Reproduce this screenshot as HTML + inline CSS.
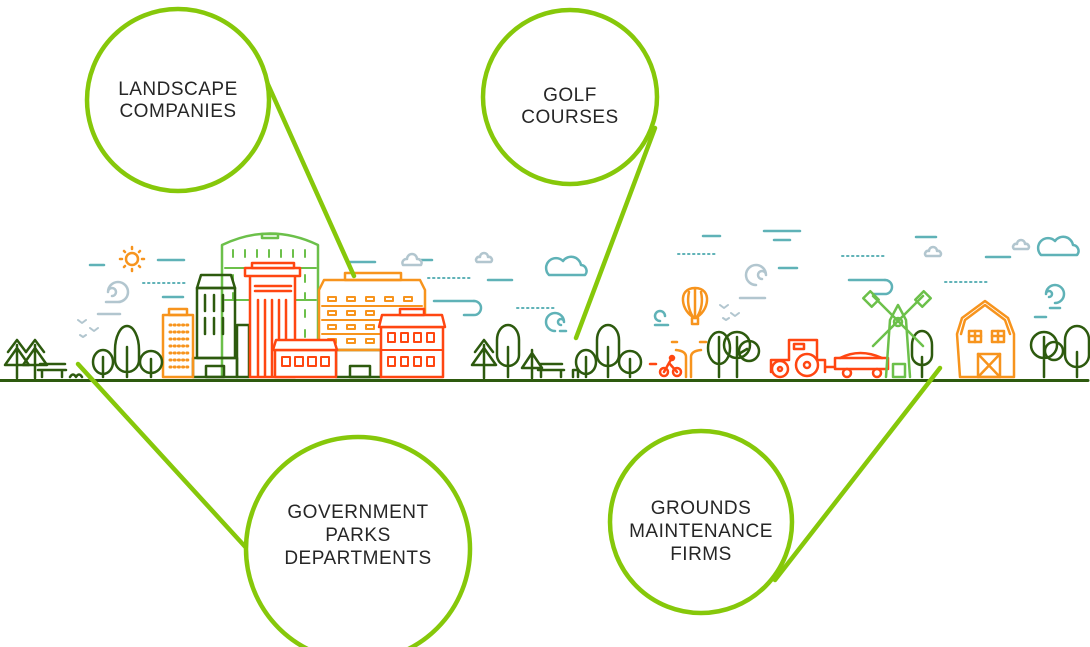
<!DOCTYPE html>
<html><head><meta charset="utf-8"><style>
html,body{margin:0;padding:0;background:#fff;}
svg{display:block}
text{font-family:"Liberation Sans",sans-serif;font-size:19px;fill:#262626;text-anchor:middle;letter-spacing:0.5px}
</style></head><body>
<svg width="1090" height="647" viewBox="0 0 1090 647" xmlns="http://www.w3.org/2000/svg">
<g fill="none" stroke-linecap="round" stroke-linejoin="round">
<!-- sky dashes -->
<g stroke="#5fb2b7" stroke-width="2.5">
<line x1="90" y1="265" x2="104" y2="265"/><line x1="158" y1="260" x2="184" y2="260"/>
<line x1="163" y1="297" x2="183" y2="297"/><line x1="348" y1="262" x2="375" y2="262"/>
<line x1="420" y1="260" x2="432" y2="260"/><line x1="488" y1="280" x2="512" y2="280"/>
<line x1="434" y1="301" x2="474" y2="301"/><path d="M474 301 a7 7 0 0 1 0 14 h-10"/>
<line x1="703" y1="236" x2="720" y2="236"/><line x1="764" y1="231" x2="800" y2="231"/><line x1="774" y1="240" x2="790" y2="240"/>
<line x1="779" y1="268" x2="797" y2="268"/><line x1="849" y1="280" x2="885" y2="280"/><path d="M885 280 a7 7 0 0 1 0 14 h-12"/>
<line x1="916" y1="237" x2="936" y2="237"/><line x1="986" y1="257" x2="1010" y2="257"/>
<line x1="1035" y1="317" x2="1046" y2="317"/>
</g>
<g stroke="#5fb2b7" stroke-width="2" stroke-dasharray="1.5 3.5">
<line x1="143" y1="283" x2="185" y2="283"/><line x1="428" y1="278" x2="470" y2="278"/>
<line x1="678" y1="254" x2="718" y2="254"/><line x1="842" y1="256" x2="884" y2="256"/>
<line x1="945" y1="282" x2="989" y2="282"/><line x1="517" y1="308" x2="556" y2="308"/>
</g>
<!-- grey swirls/clouds -->
<g stroke="#b2c6cf" stroke-width="2.5">
<path d="M118 302 a10 10 0 1 0 -10 -10 M108 292 a4 4 0 1 1 4 4 M106 302 h14"/><line x1="98" y1="314" x2="120" y2="314"/>
<path d="M403 265 h18 a4 4 0 0 0 -4 -6 a5 5 0 0 0 -10 0 a4 4 0 0 0 -4 6z"/>
<path d="M477 262 h14 a3 3 0 0 0 -3 -5 a4 4 0 0 0 -8 0 a3 3 0 0 0 -3 5z"/>
<path d="M756 285 a10 10 0 1 1 10 -10 M766 275 a4 4 0 1 0 -4 4"/><line x1="740" y1="298" x2="765" y2="298"/>
<path d="M926 256 h14 a3 3 0 0 0 -3 -5 a4 4 0 0 0 -8 0 a3 3 0 0 0 -3 5z"/>
<path d="M1014 249 h14 a3 3 0 0 0 -3 -5 a4 4 0 0 0 -8 0 a3 3 0 0 0 -3 5z"/>
</g>
<g stroke="#5fb2b7" stroke-width="2.5">
<path d="M549 275 h36 a6 6 0 0 0 -4 -10 a10 10 0 0 0 -18 -4 a8 8 0 0 0 -14 14z"/>
<path d="M1041 255 h36 a6 6 0 0 0 -4 -10 a10 10 0 0 0 -18 -4 a8 8 0 0 0 -14 14z"/>
<path d="M555 331 a9 9 0 1 1 9 -9 M564 322 a3 3 0 1 0 -3 3"/><line x1="560" y1="331" x2="566" y2="331"/>
<path d="M1055 303 a9 9 0 1 0 -9 -9 M1046 294 a3 3 0 1 1 3 3"/><line x1="1050" y1="308" x2="1060" y2="308"/>
<path d="M660 321 a5 5 0 1 1 5 -5"/><line x1="655" y1="325" x2="668" y2="325"/>
</g>
<!-- birds -->
<g stroke="#b2c6cf" stroke-width="2"><path d="M78 320 l4 3 4 -3 M90 328 l4 3 4 -3 M80 335 l3 2 3 -2 M720 305 l4 3 4 -3 M731 313 l4 3 4 -3 M723 318 l3 2 3 -2"/></g>
<!-- sun -->
<g stroke="#f7941d" stroke-width="2.5"><circle cx="132" cy="259" r="6"/><path d="M132 247v2M132 269v2M120 259h2M142 259h2M124 251l1 1M140 251l-1 1M124 267l1-1M140 267l-1-1"/></g>

<!-- buildings -->
<g stroke="#6cc04a" stroke-width="2.5">
<path d="M222 376 V245 Q270 222 318 245 V376"/><rect x="262" y="234" width="16" height="4"/>
<g stroke-width="2">
<path d="M233 250v7M245 250v7M257 250v7M269 250v7M281 250v7M293 250v7M305 250v7 M233 275v7M305 275v7M233 293v7M305 293v7M305 310v7M305 330v7"/>
<line x1="225" y1="268" x2="316" y2="268"/><line x1="225" y1="300" x2="316" y2="300"/></g>
</g>
<g stroke="#2d5a0e" stroke-width="2.5">
<path d="M197 288 L201 275 H231 L235 288Z"/><rect x="197" y="288" width="38" height="70"/>
<path d="M205 295v16M214 295v16M223 295v16M205 318v16M214 318v16M223 318v16"/>
<rect x="193" y="358" width="44" height="19"/><rect x="206" y="366" width="18" height="11"/>
<rect x="237" y="325" width="12" height="52"/>
<rect x="336" y="350" width="45" height="27"/><rect x="350" y="366" width="20" height="11"/>
</g>
<g stroke="#f7941d" stroke-width="2.5">
<rect x="163" y="315" width="30" height="62"/><rect x="169" y="309" width="18" height="6"/>
<g stroke-width="3" stroke-dasharray="1 3.2"><path d="M170 325h18M170 332h18M170 339h18M170 346h18M170 353h18M170 360h18M170 367h18"/></g>
<path d="M319 290 L324 280 H420 L425 290 V350 H319Z"/><rect x="345" y="273" width="56" height="7"/>
<g stroke-width="2"><path d="M322 306h100M322 320h100M322 334h100"/>
<rect x="328" y="297" width="8" height="4"/><rect x="347" y="297" width="8" height="4"/><rect x="366" y="297" width="8" height="4"/><rect x="385" y="297" width="8" height="4"/><rect x="404" y="297" width="8" height="4"/>
<rect x="328" y="311" width="8" height="4"/><rect x="347" y="311" width="8" height="4"/><rect x="366" y="311" width="8" height="4"/>
<rect x="328" y="325" width="8" height="4"/><rect x="347" y="325" width="8" height="4"/><rect x="366" y="325" width="8" height="4"/>
<rect x="328" y="339" width="8" height="4"/><rect x="347" y="339" width="8" height="4"/><rect x="366" y="339" width="8" height="4"/></g>
</g>
<g stroke="#ff4611" stroke-width="2.5" fill="#fff">
<rect x="250" y="275" width="45" height="102"/><rect x="245" y="268" width="55" height="8"/><rect x="252" y="263" width="42" height="5"/>
<path d="M255 286h36M255 291h36M258 300v76M265 300v76M272 300v76M279 300v76M286 300v76" fill="none"/>
<rect x="275" y="350" width="61" height="27"/><path d="M273 350 L276 340 H334 L337 350Z"/>
<g stroke-width="2"><rect x="282" y="357" width="8" height="9"/><rect x="295" y="357" width="8" height="9"/><rect x="308" y="357" width="8" height="9"/><rect x="321" y="357" width="8" height="9"/></g>
<rect x="381" y="327" width="62" height="50"/><path d="M379 327 L382 315 H442 L445 327Z"/><rect x="400" y="309" width="24" height="6"/>
<line x1="381" y1="350" x2="443" y2="350" stroke-width="2"/>
<g stroke-width="2"><rect x="388" y="333" width="7" height="9"/><rect x="401" y="333" width="7" height="9"/><rect x="414" y="333" width="7" height="9"/><rect x="427" y="333" width="7" height="9"/>
<rect x="388" y="357" width="7" height="9"/><rect x="401" y="357" width="7" height="9"/><rect x="414" y="357" width="7" height="9"/><rect x="427" y="357" width="7" height="9"/></g>
</g>

<!-- trees -->
<g stroke="#2d5a0e" stroke-width="2.5">
<path d="M17 378V345 M5 365 l12 -17 12 17z M8 352l9-12 9 12"/><path d="M35 378V345 M23 365 l12 -17 12 17z M26 352l9-12 9 12"/>
<path d="M40 364h25M38 370h28M42 370v7M62 370v7"/>
<path d="M70 377 q3 -5 6 0 q3 -5 6 0"/>
<path d="M103 377v-20 M103 362 m-10 0 a10 12 0 1 1 20 0 a10 12 0 1 1 -20 0"/>
<path d="M127 377v-30 M115 350 a12 24 0 1 1 24 0 v10 a12 12 0 0 1 -24 0z"/>
<path d="M151 377v-18 M140 362 a11 11 0 1 1 22 0 a11 11 0 1 1 -22 0"/>
<path d="M484 378V345 M472 365 l12 -17 12 17z M475 352l9-12 9 12"/>
<path d="M508 377v-30 M497 340 a11 15 0 1 1 22 0 v15 a11 11 0 0 1 -22 0z"/>
<path d="M532 378V350 M522 368 l10 -15 10 15z"/>
<path d="M540 364h22M538 370h26M541 370v7M561 370v7"/>
<path d="M573 377v-7h5v7"/>
<path d="M586 377v-20 M586 362 m-10 0 a10 12 0 1 1 20 0 a10 12 0 1 1 -20 0"/>
<path d="M608 377v-30 M597 340 a11 15 0 1 1 22 0 v15 a11 11 0 0 1 -22 0z"/>
<path d="M630 377v-18 M619 362 a11 11 0 1 1 22 0 a11 11 0 1 1 -22 0"/>
<path d="M719 377v-40 M708 348 a11 16 0 1 1 22 0 a11 16 0 1 1 -22 0"/>
<path d="M737 377v-40 M724 345 a13 13 0 1 1 26 0 a13 13 0 1 1 -26 0 M737 355 l10 -6"/>
<circle cx="749" cy="351" r="10"/>
<path d="M922 377v-20 M912 345 a10 14 0 1 1 20 0 v10 a10 10 0 0 1 -20 0z"/>
<path d="M1044 377v-40 M1031 345 a13 13 0 1 1 26 0 a13 13 0 1 1 -26 0"/><circle cx="1054" cy="351" r="9"/>
<path d="M1077 377v-25 M1065 340 a12 14 0 1 1 24 0 v15 a12 12 0 0 1 -24 0z"/>
</g>
<!-- balloon & fountain -->
<g stroke="#f7941d" stroke-width="2.5">
<path d="M695 318 c-14 -6 -18 -30 0 -30 c18 0 14 24 0 30z M695 288v30 M689 292 q-3 14 4 25 M701 292 q3 14 -4 25"/><rect x="692" y="318" width="6" height="6"/>
<path d="M686 377v-20 q0 -6 -10 -7 M691 377v-20 q0 -6 10 -7 M672 342h5 M700 342h6"/>
</g>
<!-- bike -->
<g stroke="#ff4611" stroke-width="2.5"><circle cx="664" cy="372" r="4"/><circle cx="677" cy="372" r="4"/><path d="M664 372l5-9 8 9 M669 363l3-5"/><circle cx="672" cy="358" r="2"/><line x1="650" y1="364" x2="656" y2="364"/></g>
<!-- tractor -->
<g stroke="#ff4611" stroke-width="2.5">
<path d="M771 372 v-12 h18 v-20 h28 v20 h8 v12"/><rect x="794" y="344" width="10" height="5"/>
<circle cx="780" cy="369" r="8" fill="#fff"/><circle cx="780" cy="369" r="2"/>
<circle cx="807" cy="365" r="11" fill="#fff"/><circle cx="807" cy="365" r="3"/>
<rect x="835" y="358" width="53" height="11"/><path d="M840 358 q20 -10 42 0"/><line x1="826" y1="367" x2="835" y2="367"/>
<circle cx="847" cy="373" r="4" fill="#fff"/><circle cx="877" cy="373" r="4" fill="#fff"/>
</g>
<!-- windmill -->
<g stroke="#6cc04a" stroke-width="2.5">
<path d="M886 377 L890 320 L898 305 L906 320 L910 377"/>
<path d="M873 296 l50 50 M923 296 l-50 50"/>
<rect x="866" y="293" width="10" height="12" transform="rotate(-45 871 299)"/>
<rect x="918" y="293" width="10" height="12" transform="rotate(45 923 299)"/>
<circle cx="898" cy="322" r="4"/><rect x="893" y="364" width="12" height="13"/>
</g>
<!-- barn -->
<g stroke="#f7941d" stroke-width="2.5">
<path d="M957 334 L962 318 L985 301 L1008 318 L1014 334 V377 H960 Z"/><path d="M961 334 L965 320 L985 305 L1005 320 L1010 334"/>
<rect x="969" y="331" width="12" height="11"/><path d="M975 331v11M969 336h12"/>
<rect x="992" y="331" width="12" height="11"/><path d="M998 331v11M992 336h12"/>
<rect x="978" y="354" width="22" height="23"/><path d="M978 354l22 23M1000 354l-22 23"/>
</g>
<!-- ground -->
<line x1="0" y1="380.5" x2="1088" y2="380.5" stroke="#2d5a0e" stroke-width="3"/>

<!-- connectors and circles -->
<g stroke="#86c80a" stroke-width="4.5">
<line x1="266" y1="80" x2="354" y2="276"/>
<line x1="655" y1="128" x2="576" y2="338"/>
<line x1="78" y1="364" x2="250" y2="552"/>
<line x1="940" y1="368" x2="775" y2="580"/>
<circle cx="178" cy="100" r="91" fill="#fff"/>
<circle cx="570" cy="97" r="87" fill="#fff"/>
<circle cx="358" cy="549" r="112" fill="#fff"/>
<circle cx="701" cy="522" r="91" fill="#fff"/>
</g>
</g>
<text x="178" y="95">LANDSCAPE</text><text x="178" y="117">COMPANIES</text>
<text x="570" y="101">GOLF</text><text x="570" y="123">COURSES</text>
<text x="358" y="518">GOVERNMENT</text><text x="358" y="541">PARKS</text><text x="358" y="564">DEPARTMENTS</text>
<text x="701" y="514">GROUNDS</text><text x="701" y="537">MAINTENANCE</text><text x="701" y="560">FIRMS</text>
</svg>
</body></html>
